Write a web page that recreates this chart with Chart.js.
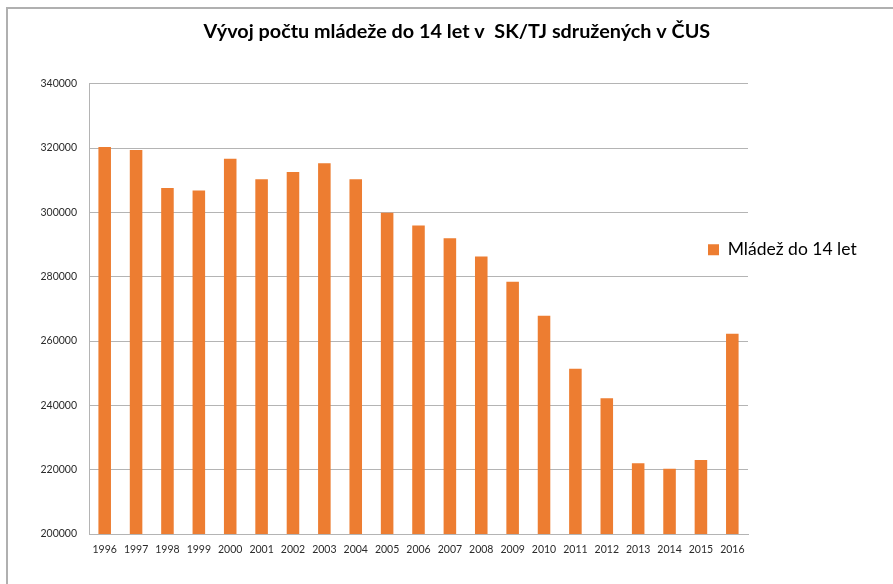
<!DOCTYPE html>
<html>
<head>
<meta charset="utf-8">
<script src="https://cdn.jsdelivr.net/npm/chart.js@4"></script>
<style>
  html, body { margin: 0; padding: 0; background: #fff; overflow: hidden; }
  #wrap { position: relative; width: 893px; height: 584px; }
  #frame { position: absolute; left: 6px; top: 7px; width: 1000px; height: 1000px;
           border-left: 2px solid #b0b0b0; border-top: 2px solid #b0b0b0; }
  canvas { position: absolute; left: 0; top: 0; }
</style>
</head>
<body>
<div id="wrap">
  <div id="frame"></div>
  <canvas id="c" width="893" height="584"></canvas>
</div>
<script>
  // data
  var years = ['1996', '1997', '1998', '1999', '2000', '2001', '2002', '2003', '2004', '2005', '2006',
               '2007', '2008', '2009', '2010', '2011', '2012', '2013', '2014', '2015', '2016'];
  var youth = [320300, 319400, 307600, 306800, 316700, 310300, 312600, 315300, 310300, 299900, 295900,
               292000, 286300, 278400, 267900, 251400, 242200, 222000, 220300, 223000, 262300];
  var seriesName = 'Mládež do 14 let';
  var chartTitle = 'Vývoj počtu mládeže do 14 let v  SK/TJ sdružených v ČUS';

  var gridColor = '#b4b4b4';
  var tickColor = '#2b2b2b';
  var plotRight = 748;

  // excel puts the legend over the right end of the plot:
  // keep the plot at plotRight and move the legend box left onto it
  var legendPlace = {
    id: 'legendPlace',
    afterLayout: function(chart) {
      var diff = chart.chartArea.right - plotRight;
      if (Math.abs(diff) > 0.5 && !chart._fixed) {
        chart._fixed = true;
        chart.options.layout.padding.right += diff;
        chart.update('none');
        return;
      }
      var l = chart.legend;
      var w = l.right - l.left;
      l.left = 708;
      l.right = 708 + w;
      l.top = 241;
      l.bottom = 241 + 30;
    }
  };

  var ctx = document.getElementById('c').getContext('2d');
  new Chart(ctx, {
    type: 'bar',
    data: {
      labels: years,
      datasets: [{
        label: seriesName,
        data: youth,
        backgroundColor: '#ED7D31',
        borderWidth: 0,
        barPercentage: 0.4,
        categoryPercentage: 1.0
      }]
    },
    plugins: [legendPlace],
    options: {
      responsive: false,
      animation: false,
      layout: { padding: { left: 7, right: 0, top: 0, bottom: 0 } },
      plugins: {
        title: {
          display: true,
          text: chartTitle,
          color: '#000',
          font: { family: 'Lato', size: 19.8, weight: 'bold' },
          padding: { top: 20, bottom: 40 }
        },
        legend: {
          position: 'right',
          align: 'start',
          labels: {
            boxWidth: 11,
            boxHeight: 11,
            padding: 0,
            color: '#000',
            font: { family: 'Lato', size: 17.5 }
          }
        },
        tooltip: { enabled: false }
      },
      scales: {
        x: {
          grid: { display: false, drawTicks: false },
          border: { display: true, color: gridColor },
          ticks: {
            color: tickColor,
            font: { family: 'Lato', size: 10.5 },
            padding: 9,
            autoSkip: false,
            maxRotation: 0
          },
          afterFit: function(s) { s.height = 50; }
        },
        y: {
          min: 200000,
          max: 340000,
          grid: { color: gridColor, drawTicks: false },
          border: { display: true, color: gridColor },
          ticks: {
            stepSize: 20000,
            color: tickColor,
            font: { family: 'Lato', size: 10.5 },
            padding: 12,
            callback: function(v) { return String(v); }
          },
          afterFit: function(s) { s.width = 82; }
        }
      }
    }
  });
</script>
</body>
</html>
